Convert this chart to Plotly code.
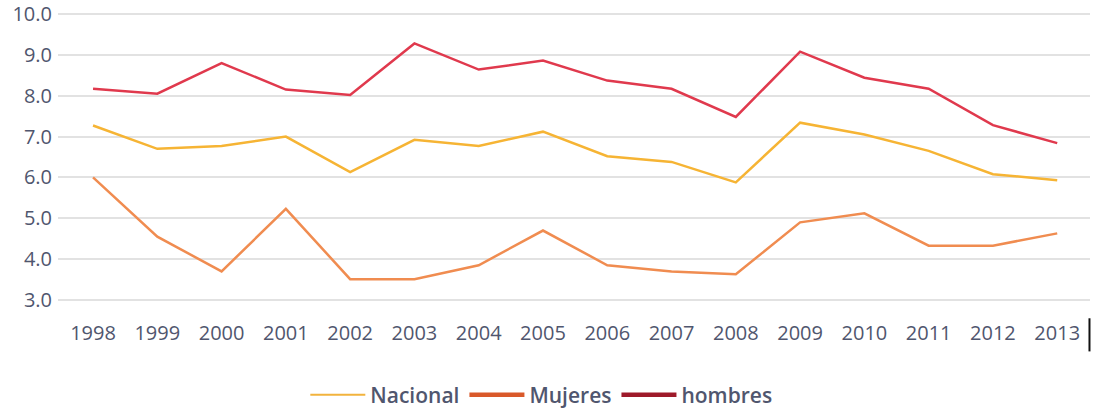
import plotly.graph_objects as go

years = [1998, 1999, 2000, 2001, 2002, 2003, 2004, 2005, 2006, 2007, 2008, 2009, 2010, 2011, 2012, 2013]
nacional = [7.27, 6.70, 6.77, 7.00, 6.13, 6.92, 6.77, 7.12, 6.52, 6.38, 5.88, 7.34, 7.05, 6.65, 6.08, 5.93]
mujeres = [6.00, 4.55, 3.70, 5.23, 3.51, 3.51, 3.85, 4.70, 3.85, 3.70, 3.63, 4.90, 5.12, 4.33, 4.33, 4.63]
hombres = [8.17, 8.05, 8.80, 8.15, 8.02, 9.28, 8.64, 8.86, 8.37, 8.17, 7.48, 9.08, 8.44, 8.17, 7.28, 6.84]
y_ticks = [3, 4, 5, 6, 7, 8, 9, 10]

series = [
    ("Nacional", nacional, "#F6B434", "#F2B33D", 2),
    ("Mujeres", mujeres, "#F08C50", "#D9592A", 4.5),
    ("hombres", hombres, "#E0394D", "#9E1A2A", 4.5),
]

fig = go.Figure()
for name, vals, col, _, _ in series:
    fig.add_trace(go.Scatter(x=years, y=vals, name=name, mode="lines", showlegend=False,
                             legendgroup=name, line=dict(color=col, width=2.5)))
for name, _, _, lcol, lw in series:
    fig.add_trace(go.Scatter(x=[None], y=[None], name=name, mode="lines", showlegend=True,
                             legendgroup=name, line=dict(color=lcol, width=lw)))

font_col = "#50566e"
fig.update_layout(
    width=1098, height=412,
    margin=dict(l=58, r=8, t=13, b=111, autoexpand=False),
    plot_bgcolor="white", paper_bgcolor="white",
    font=dict(family="Open Sans", size=20, color=font_col),
    showlegend=True,
    legend=dict(orientation="h", x=0.493, xref="container", xanchor="center",
                y=0.041, yref="container", yanchor="middle",
                font=dict(size=21, color=font_col, weight=600), itemwidth=55, tracegroupgap=0),
    xaxis=dict(range=[1997.455, 2013.51], tickmode="array", tickvals=years,
               ticktext=[str(y) for y in years], showgrid=False, zeroline=False,
               showline=False, ticks="", ticklabelstandoff=18),
    yaxis=dict(range=[2.975, 10.025], tickmode="array", tickvals=y_ticks,
               ticktext=[f"{v:.1f}" for v in y_ticks], showgrid=True,
               gridcolor="#e2e2e2", gridwidth=2, zeroline=False, showline=False,
               ticks="", ticklabelstandoff=5, ticklabeloverflow="allow"),
)
fig.add_shape(type="line", xref="paper", yref="paper", x0=0.9995, x1=0.9995, y0=-0.06, y1=-0.175,
              line=dict(color="#111111", width=2))

fig.write_html("out.html", config={"displayModeBar": False},
               post_script="document.body.style.margin='0px';")
